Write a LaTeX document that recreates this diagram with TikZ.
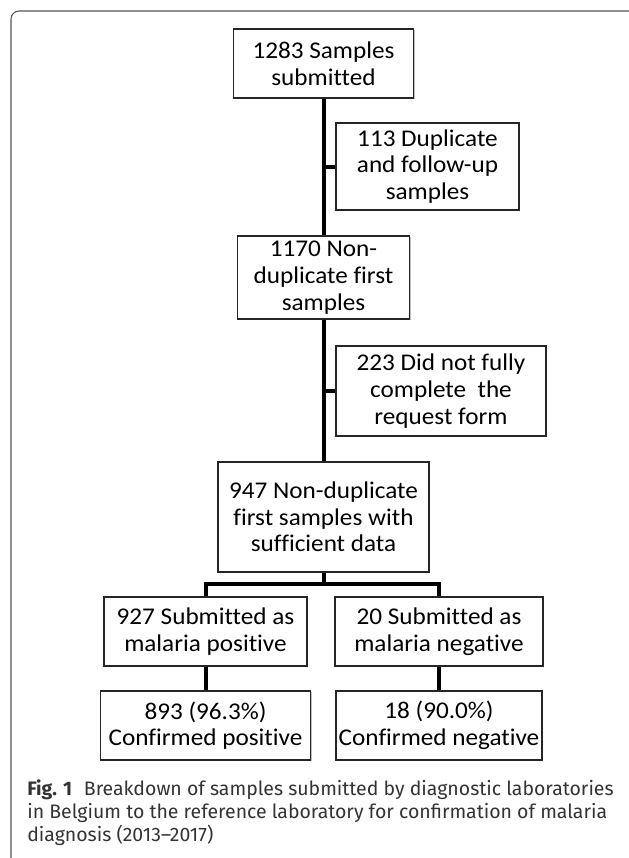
\documentclass[tikz,border=0pt]{standalone}
\usepackage{fontspec}
\setmainfont{Carlito}[Ligatures=NoCommon, FakeStretch=1.05]
\newfontfamily\capfont{Fira Sans}[Ligatures=TeX]
\usetikzlibrary{shadows}
\definecolor{framegray}{HTML}{555555}
\definecolor{captext}{HTML}{333333}
\tikzset{
  box/.style={draw=black!85, line width=1.1pt, fill=white, align=center, inner sep=0pt,
    font=\fontsize{18}{20}\selectfont,
    drop shadow={shadow xshift=0.8pt, shadow yshift=-0.8pt, opacity=0.25, fill=black}},
  conn/.style={draw=black, line width=3pt, line join=miter}
}
\begin{document}
\begin{tikzpicture}[x=0.75pt,y=-0.75pt]
\useasboundingbox (0,0) rectangle (629,858);
\begin{scope}
\clip (0,0) rectangle (629,858);
\draw[framegray, line width=0.8pt, rounded corners=6pt] (11,900) -- (11,11) -- (640,11) -- (640,900);
\end{scope}
\coordinate (bus) at (323.5,584);
\node[box, minimum width=135pt, minimum height=51.75pt] (b1) at (323.5,63.5) {1283 Samples\\submitted};
\node[box, minimum width=137.25pt, minimum height=65.25pt] (b2) at (427.5,166.5) {113 Duplicate\\and follow-up\\samples};
\node[box, minimum width=129pt, minimum height=62.25pt] (b3) at (323.5,277.5) {1170 Non-\\duplicate first\\samples};
\node[box, minimum width=157.5pt, minimum height=67.5pt] (b4) at (441,391) {223 Did not fully\\complete\ \ the\\request form};
\node[box, minimum width=158.25pt, minimum height=82.5pt] (b5) at (323.5,517) {947 Non-duplicate\\first samples with\\sufficient data};
\node[box, minimum width=152.25pt, minimum height=51.75pt] (b6) at (205.5,631.5) {927 Submitted as\\malaria positive};
\node[box, minimum width=156pt, minimum height=51.75pt] (b7) at (439,631.5) {20 Submitted as\\malaria negative};
\node[box, minimum width=157.5pt, minimum height=51.75pt] (b8) at (205.5,725.5) {893 (96.3\%)\\Confirmed\ positive};
\node[box, minimum width=154.5pt, minimum height=51.75pt] (b9) at (439,725.5) {18 (90.0\%)\\Confirmed\ negative};
\draw[conn] (b1.south) -- (b3.north);
\draw[conn] (b1.south |- b2.west) -- (b2.west);
\draw[conn] (b3.south) -- (b5.north);
\draw[conn] (b3.south |- b4.west) -- (b4.west);
\draw[conn] (b5.south) -- (bus);
\draw[conn] (b6.north) |- (bus) -| (b7.north);
\draw[conn] (b6.south) -- (b8.north);
\draw[conn] (b7.south) -- (b9.north);
\node[anchor=north west, align=left, inner sep=0pt, text=captext,
  font=\capfont\fontsize{14.6}{17.6}\selectfont] (cap) at (27,779)
  {\textbf{Fig. 1}\hspace{0.6em}Breakdown of samples submitted by diagnostic laboratories\\
   in Belgium to the reference laboratory for confirmation of malaria\\
   diagnosis (2013–2017)};
\end{tikzpicture}
\end{document}
